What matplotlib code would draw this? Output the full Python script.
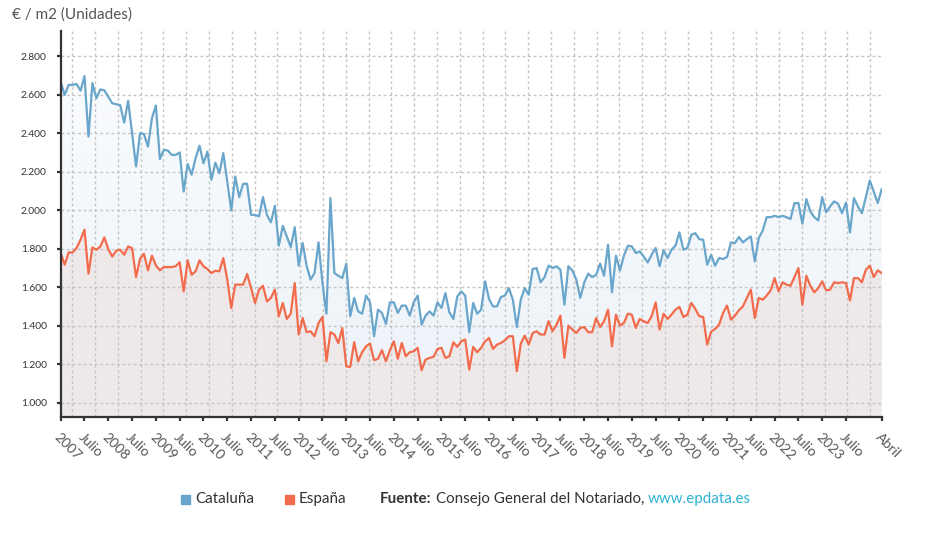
import numpy as np
import matplotlib
matplotlib.use("Agg")
import matplotlib.pyplot as plt
from matplotlib.patches import Rectangle
from matplotlib.colors import to_rgb

# ---------------- data ----------------
cataluna = [
    2667, 2598, 2650, 2650, 2655, 2620, 2696, 2382, 2660, 2581,
    2627, 2622, 2588, 2555, 2550, 2545, 2455, 2568, 2400, 2227,
    2400, 2395, 2330, 2477, 2543, 2265, 2313, 2310, 2287, 2287,
    2300, 2097, 2240, 2184, 2270, 2335, 2244, 2304, 2158, 2247,
    2192, 2296, 2149, 1999, 2175, 2068, 2137, 2137, 1976, 1976,
    1968, 2068, 1976, 1937, 2023, 1816, 1919, 1864, 1809, 1912,
    1712, 1830, 1712, 1640, 1674, 1833, 1622, 1463, 2063, 1674,
    1660, 1648, 1722, 1450, 1545, 1475, 1463, 1557, 1522, 1346,
    1484, 1467, 1410, 1522, 1522, 1467, 1505, 1505, 1453, 1522,
    1557, 1406, 1453, 1475, 1453, 1522, 1493, 1570, 1470, 1436,
    1553, 1579, 1557, 1367, 1519, 1463, 1484, 1631, 1539, 1501,
    1501, 1550, 1557, 1596, 1536, 1394, 1536, 1596, 1562, 1695,
    1700, 1626, 1653, 1712, 1700, 1709, 1691, 1510, 1709, 1688,
    1640, 1545, 1625, 1671, 1653, 1665, 1723, 1660, 1821, 1574,
    1764, 1688, 1764, 1816, 1812, 1778, 1786, 1760, 1729, 1769,
    1804, 1709, 1792, 1752, 1795, 1816, 1885, 1795, 1804, 1873,
    1881, 1850, 1847, 1717, 1769, 1712, 1752, 1747, 1757, 1833,
    1830, 1861, 1833, 1850, 1864, 1735, 1855, 1895, 1964, 1964,
    1971, 1964, 1971, 1964, 1954, 2037, 2037, 1930, 2058, 1994,
    1964, 1947, 2068, 1989, 2020, 2046, 2033, 1985, 2040, 1885,
    2063, 2020, 1985, 2068, 2154, 2097, 2037, 2109,
]
espana = [
    1778, 1717, 1781, 1781, 1804, 1847, 1899, 1671, 1807, 1795,
    1812, 1859, 1798, 1760, 1790, 1795, 1769, 1812, 1803, 1653,
    1748, 1774, 1688, 1764, 1714, 1688, 1705, 1705, 1705, 1710,
    1730, 1579, 1740, 1665, 1683, 1740, 1709, 1695, 1674, 1686,
    1683, 1752, 1640, 1493, 1614, 1614, 1614, 1669, 1596, 1519,
    1588, 1608, 1527, 1545, 1588, 1450, 1519, 1436, 1463, 1622,
    1355, 1441, 1367, 1372, 1346, 1415, 1446, 1216, 1367, 1355,
    1311, 1389, 1190, 1187, 1315, 1216, 1263, 1294, 1308, 1222,
    1229, 1274, 1216, 1274, 1320, 1229, 1311, 1242, 1263, 1268,
    1286, 1170, 1225, 1234, 1239, 1280, 1286, 1234, 1242, 1315,
    1291, 1320, 1329, 1173, 1291, 1263, 1286, 1320, 1337, 1280,
    1303, 1311, 1325, 1346, 1346, 1165, 1308, 1349, 1303, 1363,
    1372, 1355, 1355, 1424, 1372, 1406, 1453, 1234, 1401, 1381,
    1363, 1389, 1394, 1367, 1367, 1441, 1394, 1424, 1484, 1294,
    1458, 1401, 1415, 1463, 1458, 1389, 1436, 1424, 1415, 1450,
    1522, 1381, 1463, 1436, 1458, 1484, 1498, 1446, 1458, 1519,
    1488, 1450, 1446, 1303, 1370, 1384, 1406, 1467, 1505, 1432,
    1453, 1481, 1501, 1545, 1588, 1441, 1545, 1536, 1557, 1584,
    1648, 1579, 1626, 1614, 1608, 1653, 1700, 1510, 1660, 1608,
    1574, 1596, 1631, 1584, 1588, 1626, 1622, 1626, 1622, 1532,
    1648, 1648, 1626, 1691, 1712, 1653, 1688, 1674,
]
tick_labels = ["2007", "Julio", "2008", "Julio", "2009", "Julio", "2010", "Julio",
               "2011", "Julio", "2012", "Julio", "2013", "Julio", "2014", "Julio",
               "2015", "Julio", "2016", "Julio", "2017", "Julio", "2018", "Julio",
               "2019", "Julio", "2020", "Julio", "2021", "Julio", "2022", "Julio",
               "2023", "Julio", "Abril"]
tick_months = list(range(0, 199, 6)) + [207]
y_ticks = [1000, 1200, 1400, 1600, 1800, 2000, 2200, 2400, 2600, 2800]

series_names = ["Cataluña", "España"]
BLUE = "#6aa6cb"
RED = "#f26b4c"

FONT = ["Lato", "DejaVu Sans"]
plt.rcParams["font.family"] = FONT

W, H = 931, 533
fig = plt.figure(figsize=(W / 100, H / 100), dpi=100)
L, R, B, T = 60.7, 881.7, 417, 31
ax = fig.add_axes([L / W, 1 - B / H, (R - L) / W, (B - T) / H])

n = len(cataluna)
x = np.arange(n)
ymin, ymax = 927, 2930
ax.set_xlim(0, n - 1)
ax.set_ylim(ymin, ymax)


def gradient_area(ax, x, y, c_top, c_bot, z):
    poly = ax.fill_between(x, y, ymin, color="none", lw=0)
    path = poly.get_paths()[0]
    top = max(y)
    ct = np.array(to_rgb(c_top))
    cb = np.array(to_rgb(c_bot))
    t = np.linspace(0, 1, 256)[:, None]
    grad = cb * (1 - t) + ct * t
    img = ax.imshow(grad[:, None, :], extent=[x[0], x[-1], ymin, top],
                    origin="lower", aspect="auto", zorder=z, interpolation="bilinear")
    img.set_clip_path(path, transform=ax.transData)


gradient_area(ax, x, cataluna, "#fafcfe", "#ebf2f8", 1)
gradient_area(ax, x, espana, "#f0e8e8", "#eee9ea", 1.1)
ax.set_xlim(0, n - 1)
ax.set_ylim(ymin, ymax)

# grid
grid_kw = dict(color="#c4c4c4", lw=1.0, ls=(0, (2, 2)), zorder=1.5)
for v in y_ticks:
    ax.axhline(v, **grid_kw)
for k in range(36):
    ax.axvline((k + 0.5) * (n - 1) / 36, **grid_kw)

ax.plot(x, cataluna, color=BLUE, lw=1.6, zorder=3, solid_joinstyle="round")
ax.plot(x, espana, color=RED, lw=1.6, zorder=3, solid_joinstyle="round")

for s in ["top", "right"]:
    ax.spines[s].set_visible(False)
for s in ["left", "bottom"]:
    ax.spines[s].set_color("#333333")
    ax.spines[s].set_linewidth(1.6)
    ax.spines[s].set_zorder(4)

ax.set_yticks(y_ticks)
ax.set_yticklabels([f"{v:,}".replace(",", ".") for v in y_ticks])
ax.tick_params(axis="y", length=3, width=1.6, color="#333333", pad=7,
               labelsize=7.4, labelcolor="#333333")
ax.set_xticks(tick_months)
ax.set_xticklabels(tick_labels)
ax.tick_params(axis="x", length=3, width=1.6, color="#333333", pad=7,
               labelsize=10, labelcolor="#555555")
for lab in ax.get_xticklabels():
    lab.set_rotation(-45)
    lab.set_ha("left")
    lab.set_va("top")
    lab.set_rotation_mode("anchor")

fig.text(12 / W, 1 - 15 / H, "€ / m2 (Unidades)", fontsize=11, color="#555555",
         ha="left", va="center")

# legend / source line
ly = 1 - 499 / H
sq = 9
fs = 10.9
fig.patches.append(Rectangle((181 / W, (H - 499 - sq / 2) / H), sq / W, sq / H,
                             transform=fig.transFigure, color=BLUE, figure=fig))
fig.text(195 / W, ly, series_names[0], fontsize=fs, color="#333333", ha="left", va="center")
fig.patches.append(Rectangle((285 / W, (H - 499 - sq / 2) / H), sq / W, sq / H,
                             transform=fig.transFigure, color=RED, figure=fig))
fig.text(299 / W, ly, series_names[1], fontsize=fs, color="#333333", ha="left", va="center")

renderer = fig.canvas.get_renderer()
t1 = fig.text(380 / W, ly, "Fuente:", fontsize=fs, color="#333333", weight="bold",
              ha="left", va="center")
x1 = t1.get_window_extent(renderer).x1 + 4
t2 = fig.text(x1 / W, ly, "Consejo General del Notariado,", fontsize=fs, color="#333333",
              ha="left", va="center")
x2 = t2.get_window_extent(renderer).x1 + 4
fig.text(x2 / W, ly, "www.epdata.es", fontsize=fs, color="#2eb3d6", ha="left", va="center")

fig.savefig("out.png", dpi=100, facecolor="white")
